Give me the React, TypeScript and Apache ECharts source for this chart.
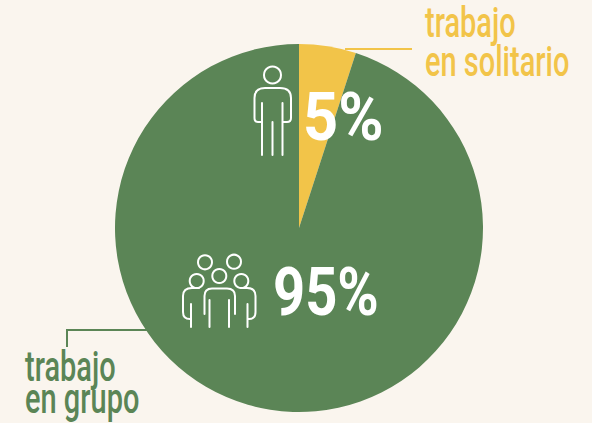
import React, { useEffect, useRef } from "react";
import * as echarts from "echarts";

const categories = ["trabajo en solitario", "trabajo en grupo"];
const values = [5, 95];
const valueLabels = ["5%", "95%"];
const BG = "#FAF5EE";
const GREEN = "#5B8556";
const YELLOW = "#F2C449";
const FONT = "Roboto, 'Liberation Sans', sans-serif";

const person =
  "M254.5 118 V98 Q254.5 88 265 88 H280 Q291 88 291 98 V118 Q291 122 287 122 H282.5 M262 103 V155 M272.5 122 V155 M282.5 103 V155 M262 122 H258 Q254.5 122 254.5 118";
const group =
  "M204.5 314 V296 Q204.5 288.5 212 288.5 H227 Q235 288.5 235 296 V314 M209.5 300 V327 M229 300 V327 M199 288 H192 Q183 288 183 296 V312 Q183 319 190 319 M191 304 V327 M241 288 H247 Q255.5 288 255.5 296 V312 Q255.5 319 249 319 M247.5 304 V327";

echarts.graphic.registerShape("personIcon", echarts.graphic.extendPath(person, {}) as any);
echarts.graphic.registerShape("groupIcon", echarts.graphic.extendPath(group, {}) as any);

// y is the wanted baseline; the text is placed from the top of its line box
const txt = (text: string, x: number, y: number, size: number, fill: string, weight: any, scaleX = 1) => ({
  type: "text",
  x,
  y: y - size * 0.88,
  scaleX,
  z: 10,
  silent: true,
  style: { text, fontFamily: FONT, fontSize: size, fontWeight: weight, fill },
});
const head = (cx: number, cy: number, r: number) => ({
  type: "circle",
  z: 10,
  shape: { cx, cy, r },
  style: { fill: "none", stroke: "#fff", lineWidth: 2 },
});
const icon = (type: string) => ({
  type,
  z: 10,
  style: { fill: "none", stroke: "#fff", lineWidth: 2, lineCap: "round" },
});

export default function App() {
  const ref = useRef<HTMLDivElement>(null);
  useEffect(() => {
    document.body.style.margin = "0";
    const chart = echarts.init(ref.current!, undefined, { renderer: "svg" });
    chart.setOption({
      animation: false,
      backgroundColor: BG,
      series: [
        {
          type: "pie",
          center: [299, 228],
          radius: [0, 184],
          startAngle: 90,
          clockwise: true,
          label: { show: false },
          labelLine: { show: false },
          emphasis: { disabled: true },
          data: categories.map((name, i) => ({
            name,
            value: values[i],
            itemStyle: { color: i === 0 ? YELLOW : GREEN },
          })),
        },
      ],
      graphic: [
        { type: "polyline", z: 10, shape: { points: [[345, 49], [412, 49]] }, style: { fill: "none", stroke: YELLOW, lineWidth: 2 } },
        { type: "polyline", z: 10, shape: { points: [[67, 347], [67, 330], [148, 330]] }, style: { fill: "none", stroke: GREEN, lineWidth: 2 } },
        txt("trabajo", 425, 39, 42, YELLOW, 500, 0.69),
        txt("en solitario", 425, 78, 42, YELLOW, 500, 0.69),
        txt("trabajo", 25, 383, 42, GREEN, 500, 0.69),
        txt("en grupo", 25, 415, 42, GREEN, 500, 0.69),
        txt(valueLabels[0], 303, 143, 66, "#fff", "bold", 0.93),
        txt(valueLabels[1], 273, 317, 66, "#fff", "bold", 0.85),
        head(272.5, 75, 8.5),
        head(205, 262.3, 7),
        head(234, 261.7, 7),
        head(196.7, 281, 7),
        head(241.3, 281, 7),
        head(219.3, 276, 7),
        icon("personIcon"),
        icon("groupIcon"),
      ],
    });
    return () => chart.dispose();
  }, []);
  return <div ref={ref} style={{ width: 592, height: 423 }} />;
}
